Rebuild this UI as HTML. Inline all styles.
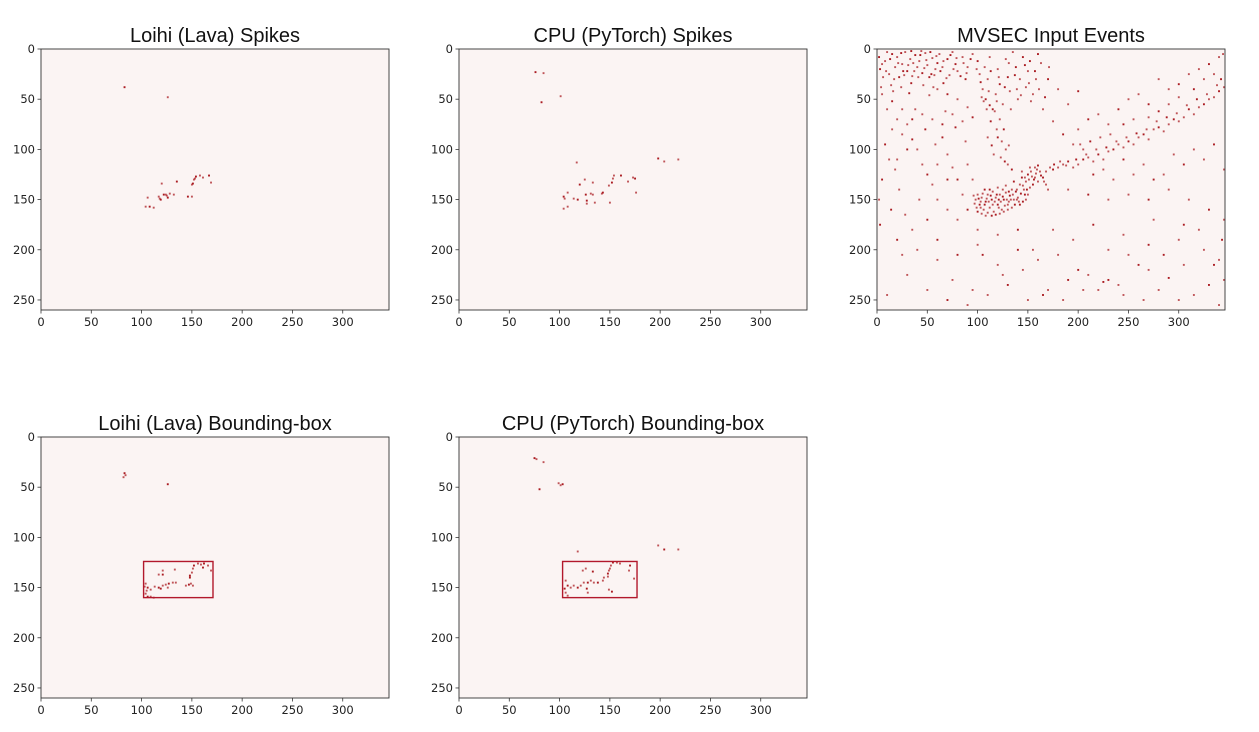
<!DOCTYPE html>
<html><head><meta charset="utf-8"><style>
html,body{margin:0;padding:0;background:#fff;}
svg{display:block;}
text{font-family:"DejaVu Sans","Liberation Sans",sans-serif;}
.title{font-family:"Liberation Sans",sans-serif;font-size:20px;fill:#111;}
.tick{font-size:11.5px;fill:#222;}
</style></head><body>
<svg id="fig" width="1259" height="732" viewBox="0 0 1259 732" xmlns="http://www.w3.org/2000/svg"></svg>
<script>
const xTicks=[0,50,100,150,200,250,300];
const yTicks=[0,50,100,150,200,250];
const xMax=346, yMax=260;
const loihiSpikes=[[83,38],[126,48],[120,134],[135,132],[106,148],[118,149],[119,150],[124,145],[125,146],[126,148],[132,145],[128,144],[146,147],[150,147],[150,135],[151,134],[152,130],[153,129],[154,127],[158,126],[161,128],[167,126],[169,133],[104,157],[108,157],[112,158],[117,147],[122,145]];
const cpuSpikes=[[76,23],[84,24],[101,47],[82,53],[117,113],[125,130],[120,135],[133,133],[108,143],[104,147],[105,149],[114,149],[118,150],[108,157],[104,159],[126,145],[131,144],[133,145],[127,151],[127,154],[135,153],[143,143],[142,144],[149,136],[152,133],[153,129],[154,126],[161,126],[168,132],[173,128],[175,129],[176,143],[150,153],[198,109],[204,112],[218,110]];
const mvsecEvents=[[3,20],[8,12],[12,25],[15,5],[18,18],[20,8],[22,28],[25,15],[28,3],[30,22],[33,10],[35,27],[38,6],[40,18],[42,12],[45,24],[48,4],[50,16],[52,28],[55,9],[58,20],[60,14],[6,28],[10,3],[26,22],[36,14],[44,2],[54,25],[62,5],[65,18],[70,10],[72,26],[75,3],[78,15],[80,22],[85,8],[88,30],[90,18],
[95,5],[100,12],[102,25],[105,40],[108,50],[110,30],[112,8],[115,60],[118,45],[120,20],[122,35],[125,55],[128,10],[130,28],[132,42],[135,3],[138,18],[140,50],[142,30],[145,8],[148,38],[150,22],[152,12],[155,45],[158,30],[160,5],[104,48],[106,52],[112,56],[117,62],[122,70],[126,80],[124,92],[128,100],[120,88],[116,105],[130,115],[134,120],
[5,45],[10,60],[15,52],[20,70],[25,85],[8,95],[12,110],[18,120],[5,130],[22,140],[30,75],[35,90],[40,100],[45,115],[50,125],[55,135],[60,150],[65,88],[70,105],[75,118],[80,130],[85,145],[38,60],[48,80],[58,95],[68,62],[78,78],[88,92],[2,150],[14,160],[28,165],[42,150],[3,175],
[98,150],[100,145],[102,155],[104,148],[106,160],[108,152],[110,145],[112,158],[114,150],[116,162],[118,148],[120,155],[122,145],[124,160],[126,150],[128,143],[130,155],[132,146],[134,140],[136,150],[138,142],[140,148],[142,135],[144,128],[146,140],[148,132],[150,125],[152,138],[154,127],[156,130],[158,124],[160,132],[100,162],[104,164],[110,163],[118,165],[126,162],[134,158],[142,155],[148,150],[150,145],[145,152],[125,140],[115,142],[107,140],[99,158],[103,152],[121,150],[131,152],[139,150],[147,145],[157,118],[162,122],[165,128],[168,135],[170,140],
[175,120],[180,118],[185,115],[190,112],[195,118],[200,115],[205,110],[210,108],[215,112],[220,105],[225,110],[230,102],[235,100],[240,95],[245,98],[250,92],[255,95],[260,88],[265,85],[270,90],[275,80],[280,78],[285,82],[290,75],[295,70],[300,72],[305,68],[310,60],[315,65],[320,58],[325,55],[330,50],[335,48],[340,42],[345,38],[200,80],[210,70],[220,65],[230,75],[240,60],[250,50],[260,45],[270,55],[280,30],[290,40],[300,35],[310,25],[320,20],[330,15],[340,8],[344,5],[170,30],[180,40],[190,55],[200,42],[165,60],[175,72],[185,85],[195,95],[205,100],[215,125],[225,120],[235,130],[245,110],[255,125],[265,115],[275,130],[285,125],[295,105],[305,115],[315,100],[325,110],[335,95],[345,120],[345,170],[343,190],[340,210],[345,230],
[20,190],[40,200],[60,210],[80,205],[100,195],[120,215],[140,200],[160,210],[180,205],[200,220],[210,225],[220,240],[230,230],[240,235],[250,205],[260,215],[270,220],[280,240],[290,228],[300,250],[315,245],[330,235],[340,255],[50,240],[70,250],[90,255],[110,245],[130,235],[150,250],[170,240],[190,230],[10,245],[30,225],[105,205],[125,225],[145,220],[165,245],[185,250],[205,240],[225,232],[245,245],[265,250],[285,205],[305,215],[325,200],[335,215],[155,200],[175,180],[215,175],[245,185],[275,170],[305,175],[75,230],[95,240],
[2,8],[5,15],[9,22],[13,10],[17,30],[21,14],[24,4],[27,26],[31,16],[34,2],[37,22],[41,28],[43,6],[47,19],[49,11],[53,3],[57,26],[59,7],[63,22],[66,12],[69,29],[73,6],[76,20],[79,9],[83,27],[86,14],[89,24],[93,10],[14,36],[24,38],[34,34],[46,36],[56,38],[66,34],[4,38],[16,42],[32,44],[52,46],
[99,20],[103,33],[107,18],[111,42],[113,22],[119,52],[121,28],[127,38],[131,14],[133,60],[137,26],[139,40],[143,46],[147,16],[151,34],[153,52],[157,22],[161,40],[163,14],[167,48],[171,18],[109,60],[113,72],[119,80],[123,108],[127,112],[131,96],[110,88],[114,96],
[96,146],[97,154],[101,149],[103,158],[105,144],[107,155],[109,149],[111,152],[113,146],[115,155],[117,152],[119,145],[121,158],[123,152],[125,147],[127,156],[129,150],[131,142],[133,150],[135,145],[137,155],[139,140],[141,152],[143,144],[145,136],[147,128],[149,140],[151,130],[153,122],[155,135],[157,128],[159,120],[163,126],[166,132],[108,166],[114,166],[122,164],[130,160],[112,140],[120,138],[128,136],[136,132],[144,122],[152,118],[160,116],[168,122],[172,118],
[176,115],[182,112],[188,116],[198,110],[208,105],[218,100],[228,98],[238,92],[248,88],[258,84],[268,80],[278,72],[288,68],[298,64],[308,56],[318,50],[328,45],[338,36],[342,30],[335,25],[325,30],[315,40],[300,48],[290,55],[280,62],[270,68],[255,70],[245,75],[232,85],[222,88],[212,92],[202,95],
[60,40],[70,45],[80,50],[90,58],[95,68],[85,72],[75,65],[65,75],[55,70],[45,65],[35,70],[25,60],[15,80],[30,100],[20,110],[60,115],[70,130],[90,115],[95,130],[90,160],[80,170],[70,160],[50,170],[35,180],[25,205],[60,190],[100,180],[120,185],[140,180],[195,190],[230,200],[270,195],[300,190],[320,180],[330,160],[310,150],[290,140],[270,150],[250,145],[230,150],[210,145],[190,140]];
const loihiBoxPts=[[83,36],[82,40],[84,38],[126,47],[121,133],[117,137],[121,137],[133,132],[104,146],[106,150],[109,152],[104,156],[106,159],[109,159],[112,160],[117,150],[121,148],[124,147],[127,146],[131,145],[134,145],[119,151],[126,150],[144,148],[147,147],[151,148],[149,146],[148,138],[150,135],[151,131],[152,128],[156,126],[159,127],[162,126],[166,128],[169,133],[161,130],[103,149],[105,153],[148,140],[113,149]];
const cpuBoxPts=[[75,21],[77,22],[84,25],[80,52],[99,46],[101,48],[103,47],[118,114],[198,108],[204,112],[218,112],[106,143],[108,148],[111,150],[114,148],[118,150],[121,148],[124,145],[128,145],[131,143],[134,145],[138,145],[143,143],[144,140],[148,136],[149,133],[151,128],[153,125],[157,125],[160,126],[170,128],[169,133],[174,141],[127,151],[128,155],[149,152],[152,154],[123,133],[126,131],[133,134],[106,155],[108,158],[105,151],[148,139],[150,131]];
const loihiBox=[102,124,171,160];
const cpuBox=[103,124,177,160];

const NS="http://www.w3.org/2000/svg";
const fig=document.getElementById('fig');
const W=348,H=261;
function mk(tag,attrs,parent){const e=document.createElementNS(NS,tag);for(const k in attrs)e.setAttribute(k,attrs[k]);(parent||fig).appendChild(e);return e;}
function panel(ox,oy,title,pts,box,key){
  const g=mk('g',{});
  
  
  const sx=v=>ox+v*W/xMax, sy=v=>oy+v*H/yMax;
  const bg=mk('rect',{x:ox,y:oy,width:W,height:H,fill:'#fbf4f3'},g);
  
  
  pts.forEach((p,i)=>{
    const r=mk('rect',{x:sx(p[0])-0.9,y:sy(p[1])-0.9,width:1.9,height:1.9,fill:'#a50f15',opacity:(i%3===0?0.95:0.7)},g);
    
    
  });
  if(box){
    const b=mk('rect',{x:sx(box[0]),y:sy(box[1]),width:sx(box[2])-sx(box[0]),height:sy(box[3])-sy(box[1]),fill:'none',stroke:'#b2182b',"stroke-width":1.4},g);
    
    
  }
  const fr=mk('rect',{x:ox,y:oy,width:W,height:H,fill:'none',stroke:'#333',"stroke-width":0.9},g);
  
  
  xTicks.forEach(t=>{
    mk('line',{x1:sx(t),x2:sx(t),y1:oy+H,y2:oy+H+3.5,stroke:'#333',"stroke-width":0.8},g);
    const tx=mk('text',{x:sx(t),y:oy+H+16,"text-anchor":"middle",class:"tick"},g);
    tx.textContent=t;
    
    
  });
  yTicks.forEach(t=>{
    mk('line',{x1:ox-3.5,x2:ox,y1:sy(t),y2:sy(t),stroke:'#333',"stroke-width":0.8},g);
    const tx=mk('text',{x:ox-6,y:sy(t)+4,"text-anchor":"end",class:"tick"},g);
    tx.textContent=t;
    
    
  });
  const tt=mk('text',{x:ox+W/2,y:oy-7,"text-anchor":"middle",class:"title"},g);
  tt.textContent=title;
  
  
}
panel(41,49,'Loihi (Lava) Spikes',loihiSpikes,null,'loihi-spikes');
panel(459,49,'CPU (PyTorch) Spikes',cpuSpikes,null,'cpu-spikes');
panel(877,49,'MVSEC Input Events',mvsecEvents,null,'mvsec-events');
panel(41,437,'Loihi (Lava) Bounding-box',loihiBoxPts,loihiBox,'loihi-bbox');
panel(459,437,'CPU (PyTorch) Bounding-box',cpuBoxPts,cpuBox,'cpu-bbox');
</script>
</body></html>
